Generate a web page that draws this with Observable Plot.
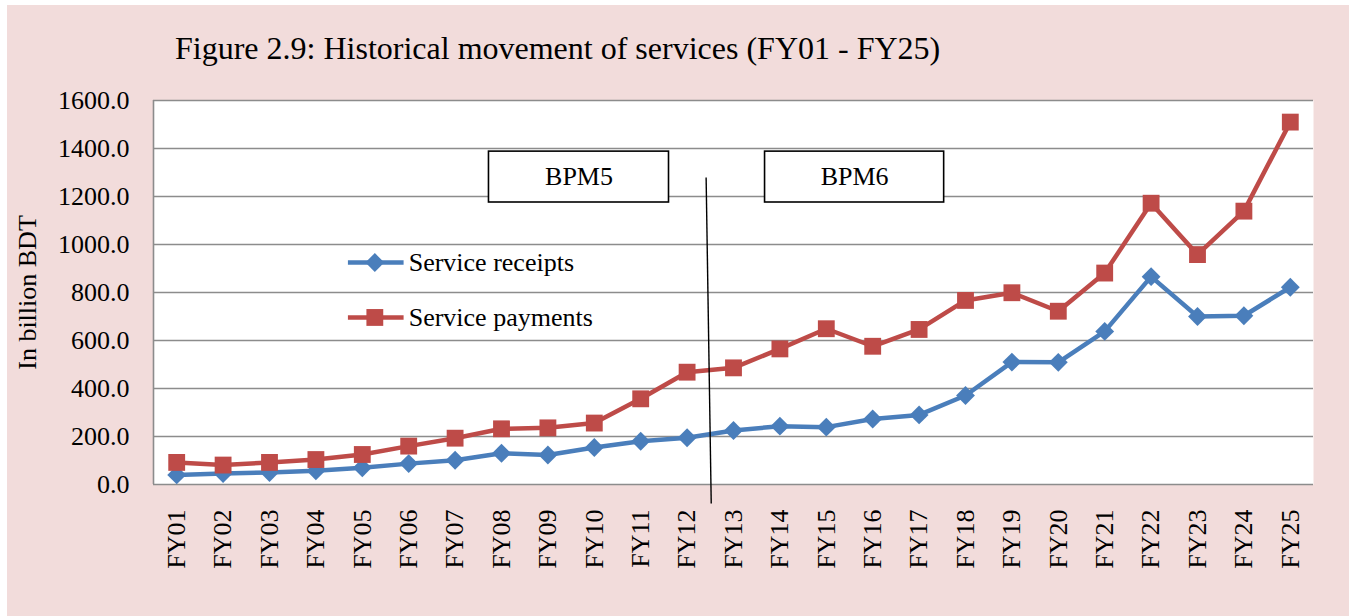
<!DOCTYPE html>
<html><head><meta charset="utf-8">
<script src="https://cdn.jsdelivr.net/npm/d3@7"></script>
<script src="https://cdn.jsdelivr.net/npm/@observablehq/plot@0.6"></script>
<style>
html,body{margin:0;padding:0;background:#fff;}
#bg{position:absolute;left:7px;top:5px;width:1342px;height:611px;background:#f2dcdb;}
#title{position:absolute;left:175px;top:29px;font-family:"Liberation Serif",serif;font-size:32px;color:#000;white-space:nowrap;line-height:38px;}
#chart{position:absolute;left:0;top:0;}
#chart svg, #chart svg text{font-family:"Liberation Serif",serif !important;}
</style></head><body>
<div id="bg"></div>
<div id="title">Figure 2.9: Historical movement of services (FY01 - FY25)</div>
<div id="chart"></div>
<script>
const years = ["FY01","FY02","FY03","FY04","FY05","FY06","FY07","FY08","FY09","FY10","FY11","FY12","FY13",
  "FY14","FY15","FY16","FY17","FY18","FY19","FY20","FY21","FY22","FY23","FY24","FY25"];
const receipts = [40,46,50,57,70,87,101,130,123,154,180,195,225,243,239,273,290,371,510,509,638,866,700,703,822];
const payments = [92,81,92,104,125,160,193,232,236,256,357,468,486,565,649,576,646,767,799,722,881,1172,958,1139,1510];
const yTicks = [0,200,400,600,800,1000,1200,1400,1600];
const seriesNames = ["Service receipts","Service payments"];
const seriesColors = ["#4a7ebb","#be4b48"];
const regimes = ["BPM5","BPM6"];

const rows = years.flatMap((fy, k) => [
  {i: k + 1, fy, v: receipts[k], s: seriesNames[0]},
  {i: k + 1, fy, v: payments[k], s: seriesNames[1]}
]);

// annotation placement (data units)
const boxes = regimes.map((r, k) => ({r, x1: [7.73, 13.68][k], x2: [11.61, 17.54][k], y1: 1175, y2: 1387}));
const legend = seriesNames.map((s, k) => ({s, y: [925, 696][k], x1: 4.69, x2: 5.89, xm: 5.27, xt: 6.0}));
const divider = [{x1: 12.41, y1: 1279, x2: 12.52, y2: -79}];

const chart = Plot.plot({
  width: 1352, height: 616,
  marginLeft: 153, marginRight: 39, marginTop: 100, marginBottom: 132,
  x: {domain: [0.5, 25.5]},
  y: {domain: [0, 1600]},
  color: {domain: seriesNames, range: seriesColors},
  style: {background: "transparent", fontFamily: "Liberation Serif, serif", fontSize: "26px", color: "#000"},
  marks: [
    Plot.frame({fill: "white", stroke: null}),
    Plot.ruleY(yTicks, {stroke: "#8c8c8c", strokeWidth: 1.6}),
    Plot.ruleX([0.5], {stroke: "#8c8c8c", strokeWidth: 1.6}),
    Plot.axisY(yTicks, {tickFormat: d3.format(".1f"), tickSize: 0, tickPadding: 24, label: null, fontSize: 26}),
    Plot.axisX(d3.range(1, 26), {tickFormat: d => years[d - 1], tickRotate: -90, tickSize: 0, tickPadding: 25, label: null, fontSize: 26}),
    Plot.text(["In billion BDT"], {frameAnchor: "left", dx: -126, rotate: -90, textAnchor: "middle", fontSize: 26}),
    Plot.line(rows, {x: "i", y: "v", z: "s", stroke: "s", strokeWidth: 4.5}),
    Plot.dot(rows.filter(d => d.s === seriesNames[0]), {x: "i", y: "v", symbol: "diamond2", r: 8.5, fill: seriesColors[0], stroke: null}),
    Plot.dot(rows.filter(d => d.s === seriesNames[1]), {x: "i", y: "v", symbol: "square", r: 9.5, fill: seriesColors[1], stroke: null}),
    Plot.link(divider, {x1: "x1", y1: "y1", x2: "x2", y2: "y2", stroke: "black", strokeWidth: 1.4}),
    Plot.rect(boxes, {x1: "x1", x2: "x2", y1: "y1", y2: "y2", fill: "white", stroke: "black", strokeWidth: 1.6}),
    Plot.text(boxes, {x: d => (d.x1 + d.x2) / 2, y: d => (d.y1 + d.y2) / 2, text: "r", fontSize: 26}),
    Plot.link(legend, {x1: "x1", x2: "x2", y1: "y", y2: "y", stroke: "s", strokeWidth: 4.5}),
    Plot.dot(legend.slice(0, 1), {x: "xm", y: "y", symbol: "diamond2", r: 8.5, fill: seriesColors[0], stroke: null}),
    Plot.dot(legend.slice(1), {x: "xm", y: "y", symbol: "square", r: 9.5, fill: seriesColors[1], stroke: null}),
    Plot.text(legend, {x: "xt", y: "y", text: "s", textAnchor: "start", fontSize: 26})
  ]
});
document.getElementById("chart").appendChild(chart);
</script>
</body></html>
